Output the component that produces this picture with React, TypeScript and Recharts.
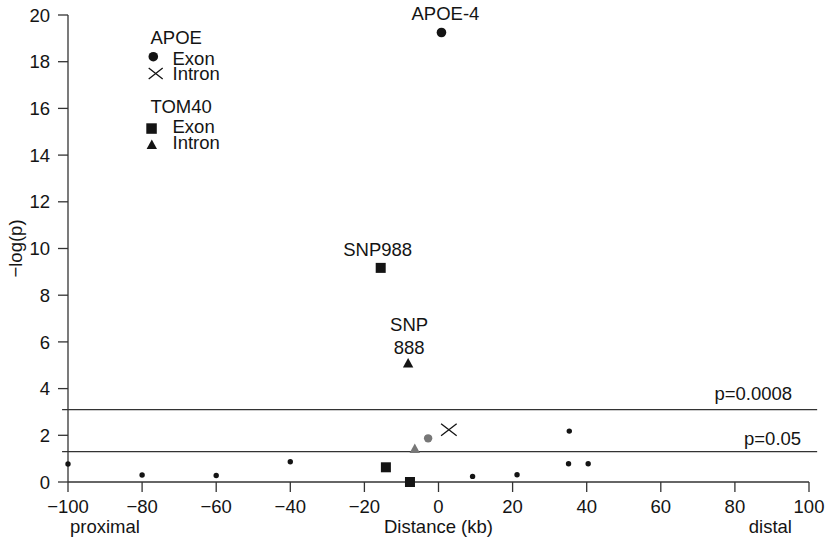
import React from 'react'
import { ScatterChart, Scatter, XAxis, YAxis, ReferenceLine, Label } from 'recharts'

const FONT = '"Liberation Sans", Arial, Helvetica, sans-serif'
const FS = 18.5
const INK = '#141414'
const GREY = '#777777'
const AXIS = '#333333'

const xTicks = [-100, -80, -60, -40, -20, 0, 20, 40, 60, 80, 100]
const yTicks = [0, 2, 4, 6, 8, 10, 12, 14, 16, 18, 20]

// other SNPs, small dots
const otherX = [-100, -80, -60, -40, 9.2, 21.2, 35.1, 35.3, 40.4]
const otherY = [0.77, 0.3, 0.28, 0.87, 0.24, 0.31, 0.78, 2.18, 0.78]

// APOE exon / intron
const apoeExonX = [0.8, -2.8]
const apoeExonY = [19.25, 1.87]
const apoeExonLabel = ['APOE-4', '']
const apoeExonTone = ['dark', 'grey']
const apoeIntronX = [2.8]
const apoeIntronY = [2.24]

// TOM40 exon / intron
const tomExonX = [-15.6, -14.2, -7.7]
const tomExonY = [9.17, 0.63, 0]
const tomExonLabel = ['SNP988', '', '']
const tomIntronX = [-8.2, -6.4]
const tomIntronY = [5.1, 1.43]
const tomIntronLabel = ['SNP 888', '']
const tomIntronTone = ['dark', 'grey']

const thresholds = [
  { p: '0.0008', y: 3.1, pad: 25, lift: 10 },
  { p: '0.05', y: 1.3, pad: 16, lift: 7 },
]

const zip = (xs: number[], ys: number[], labels?: string[], tones?: string[]) =>
  xs.map((x, i) => ({ x, y: ys[i], label: labels ? labels[i] : '', tone: tones ? tones[i] : 'dark' }))

const others = zip(otherX, otherY)
const apoeExon = zip(apoeExonX, apoeExonY, apoeExonLabel, apoeExonTone)
const apoeIntron = zip(apoeIntronX, apoeIntronY)
const tomExon = zip(tomExonX, tomExonY, tomExonLabel)
const tomIntron = zip(tomIntronX, tomIntronY, tomIntronLabel, tomIntronTone)

const minus = (v: number) => String(v).replace('-', '\u2212')
const txt = { fontFamily: FONT, fontSize: FS, fill: INK }

function PointLabel({ cx, cy, text, gap }: { cx: number; cy: number; text: string; gap: number }) {
  if (!text) return null
  const lines = text.split(' ')
  return (
    <text x={cx} textAnchor="middle" style={txt}>
      {lines.map((l, i) => (
        <tspan key={i} x={cx} y={cy - gap - (lines.length - 1 - i) * 23}>
          {l}
        </tspan>
      ))}
    </text>
  )
}

const colorOf = (p: any) => (p && p.tone === 'grey' ? GREY : INK)

function SmallDot(props: any) {
  return <circle cx={props.cx} cy={props.cy} r={2.7} fill={INK} />
}

function CircleMark(props: any) {
  const { cx, cy, payload } = props
  const r = payload.tone === 'grey' ? 4.2 : 4.8
  return (
    <g>
      <circle cx={cx} cy={cy} r={r} fill={colorOf(payload)} />
      <PointLabel cx={cx + 4} cy={cy} text={payload.label} gap={12.5} />
    </g>
  )
}

function CrossMark(props: any) {
  const { cx, cy } = props
  return (
    <path
      d={`M${cx - 7.8},${cy - 6}L${cx + 7.8},${cy + 6}M${cx - 7.8},${cy + 6}L${cx + 7.8},${cy - 6}`}
      stroke={INK}
      strokeWidth={1.3}
      fill="none"
    />
  )
}

function SquareMark(props: any) {
  const { cx, cy, payload } = props
  return (
    <g>
      <rect x={cx - 5} y={cy - 5} width={10} height={10} fill={colorOf(payload)} />
      <PointLabel cx={cx - 3} cy={cy} text={payload.label} gap={11.5} />
    </g>
  )
}

function TriangleMark(props: any) {
  const { cx, cy, payload } = props
  return (
    <g>
      <path d={`M${cx},${cy - 5}L${cx + 5.2},${cy + 4.5}L${cx - 5.2},${cy + 4.5}Z`} fill={colorOf(payload)} />
      <PointLabel cx={cx + 1} cy={cy} text={payload.label} gap={8.5} />
    </g>
  )
}

function XTick(props: any) {
  const { x, y, payload } = props
  const v = payload.value
  return (
    <g>
      <text x={x} y={y + 19} textAnchor="middle" style={txt}>
        {minus(v)}
      </text>
      {v === -100 && (
        <text x={x + 2} y={y + 39} textAnchor="start" style={txt}>
          proximal
        </text>
      )}
      {v === 0 && (
        <text x={x} y={y + 39} textAnchor="middle" style={txt}>
          Distance (kb)
        </text>
      )}
      {v === 100 && (
        <text x={x - 17} y={y + 39} textAnchor="end" style={txt}>
          distal
        </text>
      )}
    </g>
  )
}

function YTick(props: any) {
  const { x, y, payload } = props
  return (
    <text x={x - 6} y={y} dy="0.36em" textAnchor="end" style={txt}>
      {payload.value}
    </text>
  )
}

function LegendOverlay() {
  return (
    <svg width={827} height={543} style={{ position: 'absolute', left: 0, top: 0, pointerEvents: 'none' }}>
      <text x={150.5} y={44} style={txt}>APOE</text>
      <circle cx={153.3} cy={56.7} r={4.8} fill={INK} />
      <text x={172.5} y={65} style={txt}>Exon</text>
      <path d="M148.7,68L162.7,79M148.7,79L162.7,68" stroke={INK} strokeWidth={1.3} fill="none" />
      <text x={172.5} y={80} style={txt}>Intron</text>
      <text x={150.5} y={113.3} style={txt}>TOM40</text>
      <rect x={146.3} y={123.3} width={10.5} height={10.5} fill={INK} />
      <text x={172.5} y={133.3} style={txt}>Exon</text>
      <path d="M151.8,139.5L157,149L146.6,149Z" fill={INK} />
      <text x={172.5} y={149} style={txt}>Intron</text>
    </svg>
  )
}

export default function App() {
  return (
    <div style={{ position: 'absolute', left: 0, top: 0, width: 827, height: 543, background: '#fff' }}>
      <ScatterChart width={827} height={543} margin={{ top: 15, right: 18, bottom: 1, left: 8 }}>
        <XAxis
          type="number"
          dataKey="x"
          domain={[-100, 100]}
          ticks={xTicks}
          tickSize={10}
          height={60}
          stroke={AXIS}
          strokeWidth={1.3}
          tick={<XTick />}
        />
        <YAxis
          type="number"
          dataKey="y"
          domain={[0, 20]}
          ticks={yTicks}
          tickSize={10}
          width={60}
          stroke={AXIS}
          strokeWidth={1.3}
          tick={<YTick />}
        >
          <Label
            content={(p: any) => {
              const vb = p.viewBox || { x: 8, y: 15, width: 60, height: 467 }
              const cx = vb.x + 14
              const cy = vb.y + vb.height / 2
              return (
                <text x={cx} y={cy} transform={`rotate(-90 ${cx} ${cy})`} textAnchor="middle" style={txt}>
                  {'\u2212log(p)'}
                </text>
              )
            }}
          />
        </YAxis>
        {thresholds.map((t) => (
          <ReferenceLine
            key={t.p}
            segment={[
              { x: -101.6, y: t.y },
              { x: 102.2, y: t.y },
            ]}
            ifOverflow="visible"
            stroke={AXIS}
            strokeWidth={1.3}
            label={(p: any) => {
              const vb = p.viewBox
              return (
                <text x={vb.x + vb.width - t.pad} y={vb.y - t.lift} textAnchor="end" style={txt}>
                  {'p=' + t.p}
                </text>
              )
            }}
          />
        ))}
        <Scatter data={others} shape={<SmallDot />} isAnimationActive={false} />
        <Scatter data={apoeExon} shape={<CircleMark />} isAnimationActive={false} />
        <Scatter data={apoeIntron} shape={<CrossMark />} isAnimationActive={false} />
        <Scatter data={tomExon} shape={<SquareMark />} isAnimationActive={false} />
        <Scatter data={tomIntron} shape={<TriangleMark />} isAnimationActive={false} />
      </ScatterChart>
      <LegendOverlay />
    </div>
  )
}
